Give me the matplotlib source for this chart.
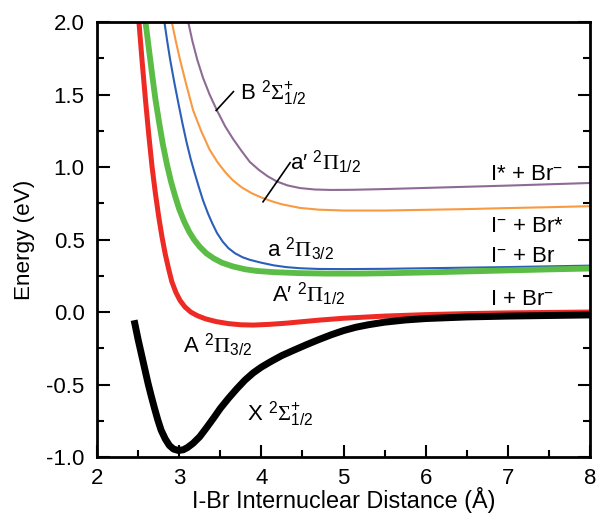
import matplotlib
matplotlib.use("Agg")
import matplotlib.pyplot as plt
from matplotlib.ticker import MultipleLocator

plt.rcParams["font.family"] = ["Liberation Sans", "DejaVu Sans"]
plt.rcParams["mathtext.fontset"] = "custom"
plt.rcParams["mathtext.rm"] = "Liberation Serif"
plt.rcParams["mathtext.it"] = "Liberation Serif:italic"
plt.rcParams["mathtext.sf"] = "Liberation Sans"
plt.rcParams["axes.unicode_minus"] = False

# potential energy curves, I-Br distance (Angstrom) vs energy (eV)
x_X = [2.46, 2.50, 2.54, 2.58, 2.62, 2.66, 2.70, 2.74, 2.78, 2.83, 2.88, 2.93,
       2.99, 3.05, 3.10, 3.17, 3.25, 3.33, 3.42, 3.50, 3.60, 3.70, 3.80, 3.90,
       4.00, 4.12, 4.25, 4.40, 4.55, 4.70, 4.85, 5.00, 5.15, 5.30, 5.50, 5.75,
       6.0, 6.5, 7.0, 7.5, 8.0]
E_X = [-0.08, -0.19, -0.29, -0.39, -0.49, -0.58, -0.665, -0.745, -0.815,
       -0.875, -0.92, -0.945, -0.955, -0.95, -0.935, -0.905, -0.86, -0.80,
       -0.73, -0.665, -0.595, -0.53, -0.47, -0.42, -0.38, -0.34, -0.30,
       -0.262, -0.225, -0.19, -0.157, -0.128, -0.105, -0.088, -0.07, -0.055,
       -0.045, -0.034, -0.028, -0.024, -0.02]

x_A = [2.51, 2.55, 2.59, 2.63, 2.67, 2.71, 2.75, 2.79, 2.83, 2.87, 2.91, 2.96,
       3.01, 3.07, 3.14, 3.22, 3.32, 3.45, 3.60, 3.75, 3.90, 4.10, 4.30, 4.47,
       4.70, 5.0, 5.5, 6.0, 6.5, 7.0, 7.5, 8.0]
E_A = [2.00, 1.72, 1.46, 1.22, 1.00, 0.82, 0.66, 0.52, 0.40, 0.30, 0.21, 0.135,
       0.08, 0.035, 0.00, -0.025, -0.047, -0.066, -0.08, -0.088, -0.09, -0.085,
       -0.077, -0.068, -0.056, -0.043, -0.028, -0.018, -0.011, -0.006, -0.003,
       0.00]

x_Ap = [2.59, 2.63, 2.67, 2.71, 2.755, 2.80, 2.85, 2.90, 2.95, 3.00, 3.06, 3.12,
        3.18, 3.25, 3.33, 3.42, 3.52, 3.65, 3.80, 3.95, 4.15, 4.47, 4.8, 5.2,
        5.6, 6.0, 6.5, 7.0, 7.5, 8.0]
E_Ap = [2.00, 1.82, 1.64, 1.47, 1.31, 1.16, 1.02, 0.90, 0.80, 0.71, 0.625,
        0.555, 0.50, 0.45, 0.405, 0.37, 0.34, 0.315, 0.295, 0.283, 0.275,
        0.268, 0.265, 0.265, 0.268, 0.273, 0.28, 0.287, 0.294, 0.30]

x_a = [2.82, 2.855, 2.89, 2.94, 2.99, 3.04, 3.09, 3.14, 3.19, 3.24, 3.29, 3.35,
       3.40, 3.46, 3.53, 3.60, 3.68, 3.77, 3.86, 4.0, 4.15, 4.3, 4.47, 4.7,
       5.0, 5.5, 6.0, 6.5, 7.0, 7.5, 8.0]
E_a = [2.00, 1.865, 1.74, 1.585, 1.44, 1.30, 1.17, 1.055, 0.955, 0.86, 0.77,
       0.68, 0.615, 0.545, 0.485, 0.44, 0.405, 0.378, 0.36, 0.34, 0.322, 0.31,
       0.302, 0.297, 0.296, 0.298, 0.302, 0.306, 0.31, 0.315, 0.32]

x_ap = [2.91, 2.96, 3.01, 3.09, 3.17, 3.27, 3.37, 3.47, 3.56, 3.65, 3.76, 3.88,
        4.00, 4.12, 4.25, 4.47, 4.7, 5.0, 5.5, 6.0, 6.5, 7.0, 7.5, 8.0]
E_ap = [2.00, 1.865, 1.74, 1.56, 1.39, 1.245, 1.12, 1.03, 0.965, 0.91, 0.86,
        0.82, 0.79, 0.765, 0.743, 0.718, 0.706, 0.70, 0.70, 0.705, 0.71, 0.717,
        0.723, 0.73]

x_B = [3.11, 3.16, 3.22, 3.29, 3.37, 3.46, 3.56, 3.66, 3.76, 3.86, 3.97, 4.08,
       4.19, 4.32, 4.47, 4.65, 4.85, 5.1, 5.5, 6.0, 6.5, 7.0, 7.5, 8.0]
E_B = [2.00, 1.87, 1.74, 1.615, 1.50, 1.39, 1.28, 1.19, 1.11, 1.035, 0.98,
       0.935, 0.90, 0.873, 0.855, 0.845, 0.842, 0.843, 0.848, 0.856, 0.864,
       0.872, 0.881, 0.89]

fig = plt.figure(figsize=(5.99, 5.25), dpi=100)
ax = fig.add_axes([0.162, 0.1295, 0.823, 0.8285])

ax.plot(x_B, E_B, color="#8e6b94", lw=1.5)
ax.plot(x_ap, E_ap, color="#f89a42", lw=1.5)
ax.plot(x_a, E_a, color="#2b5fb8", lw=1.5)
ax.plot(x_Ap, E_Ap, color="#5cbd46", lw=4.2, solid_joinstyle="round")
ax.plot(x_A, E_A, color="#ee2a24", lw=3.6, solid_joinstyle="round")
ax.plot(x_X, E_X, color="black", lw=5.0, solid_joinstyle="round")

# state labels
fs = 16
ax.text(3.74, 1.47, r"B $^{\mathsf{2}}\Sigma^{\mathsf{+}}_{\mathsf{1/2}}$", fontsize=fs)
ax.plot([3.45, 3.66], [1.39, 1.52], color="black", lw=1.2)
ax.text(4.35, 0.98, "a\u2032 " + r"$^{\mathsf{2}}\Pi_{\mathsf{1/2}}$", fontsize=fs)
ax.plot([4.02, 4.35], [0.76, 1.03], color="black", lw=1.2)
ax.text(4.07, 0.38, r"a $^{\mathsf{2}}\Pi_{\mathsf{3/2}}$", fontsize=fs)
ax.text(4.13, 0.07, "A\u2032 " + r"$^{\mathsf{2}}\Pi_{\mathsf{1/2}}$", fontsize=fs)
ax.text(3.05, -0.28, r"A $^{\mathsf{2}}\Pi_{\mathsf{3/2}}$", fontsize=fs)
ax.text(3.82, -0.745, r"X $^{\mathsf{2}}\Sigma^{\mathsf{+}}_{\mathsf{1/2}}$", fontsize=fs)

# asymptote labels
ax.text(6.78, 0.91, r"I* + Br$^{\mathsf{-}}$", fontsize=fs)
ax.text(6.78, 0.55, r"I$^{\mathsf{-}}$ + Br*", fontsize=fs)
ax.text(6.78, 0.345, r"I$^{\mathsf{-}}$ + Br", fontsize=fs)
ax.text(6.78, 0.05, r"I + Br$^{\mathsf{-}}$", fontsize=fs)

ax.set_xlim(2, 8)
ax.set_ylim(-1.0, 2.0)
ax.xaxis.set_major_locator(MultipleLocator(1))
ax.xaxis.set_minor_locator(MultipleLocator(0.5))
ax.yaxis.set_major_locator(MultipleLocator(0.5))
ax.yaxis.set_minor_locator(MultipleLocator(0.25))
ax.yaxis.set_major_formatter(plt.FormatStrFormatter("%.1f"))
ax.tick_params(which="both", direction="in", top=False, right=True,
               width=1.5, labelsize=16)
ax.tick_params(which="major", length=9)
ax.tick_params(which="minor", length=5)
ax.tick_params(axis="y", pad=9)
ax.tick_params(axis="x", pad=8)
for sp in ax.spines.values():
    sp.set_linewidth(2.0)

ax.set_xlabel("I-Br Internuclear Distance (Å)", fontsize=16.8)
ax.set_ylabel("Energy (eV)", fontsize=16.2)
ax.xaxis.set_label_coords(0.5, -0.07)
ax.yaxis.set_label_coords(-0.126, 0.5)

fig.savefig("out.png", dpi=100)
